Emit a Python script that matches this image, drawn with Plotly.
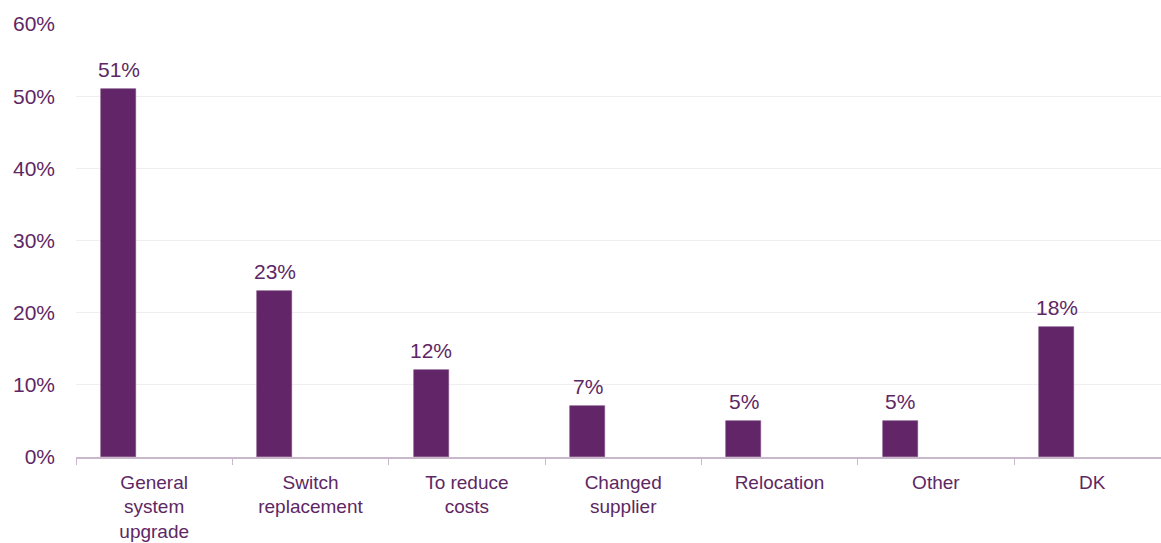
import plotly.graph_objects as go

# Reasons for replacing the system (share of respondents)
categories = [
    "General<br>system<br>upgrade",
    "Switch<br>replacement",
    "To reduce<br>costs",
    "Changed<br>supplier",
    "Relocation",
    "Other",
    "DK",
]
shares = [51, 23, 12, 7, 5, 5, 18]
y_ticks = [0, 10, 20, 30, 40, 50, 60]

BAR = "#622567"
TEXT = "#5E2763"
AXIS = "#C9B8CB"
GRID = "#F1EEF1"
FONT = "Liberation Sans, Arial, sans-serif"

BAR_WIDTH = 0.224
BAR_OFFSET = -0.34

fig = go.Figure(
    go.Bar(
        x=categories,
        y=shares,
        width=BAR_WIDTH,
        offset=BAR_OFFSET,
        marker=dict(color=BAR, line=dict(color="#7A4A7E", width=0.6)),
        cliponaxis=False,
    )
)

# value labels above each bar
for i, v in enumerate(shares):
    fig.add_annotation(
        x=i + BAR_OFFSET + BAR_WIDTH / 2,
        y=v,
        xref="x",
        yref="y",
        text=f"{v}%",
        showarrow=False,
        yanchor="bottom",
        yshift=6,
        font=dict(family=FONT, size=21, color=TEXT),
    )

fig.update_layout(
    width=1161,
    height=543,
    margin=dict(l=76, r=0, t=24, b=86),
    paper_bgcolor="white",
    plot_bgcolor="white",
    showlegend=False,
    font=dict(family=FONT, size=20, color=TEXT),
    bargap=0,
)

fig.update_xaxes(
    type="category",
    range=[-0.5, 6.44],
    showline=True,
    linecolor=AXIS,
    linewidth=1.5,
    ticks="outside",
    tickson="boundaries",
    ticklen=6,
    tickcolor=AXIS,
    tickwidth=1,
    showgrid=False,
    tickfont=dict(family=FONT, size=19, color=TEXT),
    ticklabelstandoff=7,
    automargin=False,
)

fig.update_yaxes(
    range=[0, 60],
    tickvals=y_ticks,
    ticktext=[f"{v}%" for v in y_ticks],
    showgrid=True,
    gridcolor=GRID,
    gridwidth=1,
    showline=False,
    zeroline=False,
    ticks="",
    tickfont=dict(family=FONT, size=21, color=TEXT),
    ticklabelstandoff=20,
    automargin=False,
)

fig.write_html("out.html")
